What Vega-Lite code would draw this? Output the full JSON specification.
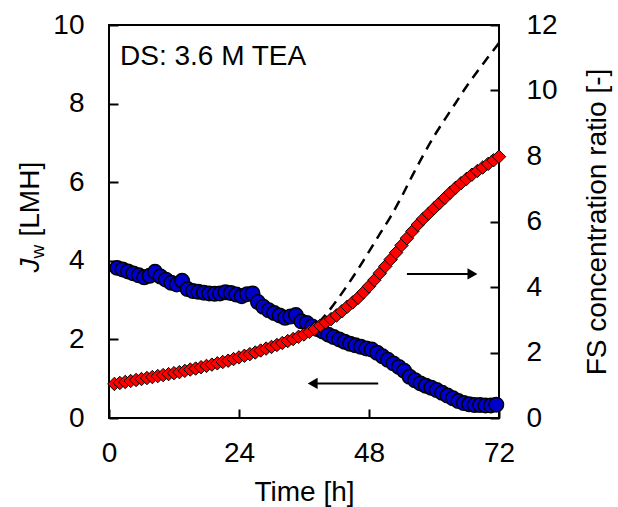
{
  "$schema": "https://vega.github.io/schema/vega-lite/v6.json",
  "width": 390,
  "height": 393,
  "autosize": "none",
  "padding": {"left": 109, "top": 25, "right": 119, "bottom": 89},
  "background": "white",
  "config": {
    "font": "Liberation Sans",
    "view": {"stroke": "black", "strokeWidth": 2},
    "axis": {
      "labelFont": "Liberation Sans",
      "titleFont": "Liberation Sans",
      "labelFontSize": 28,
      "labelColor": "black",
      "titleFontSize": 28,
      "titleFontWeight": "normal",
      "titleColor": "black",
      "tickColor": "black",
      "tickWidth": 2,
      "tickSize": -9,
      "labelFlush": false,
      "labelOverlap": false,
      "grid": false,
      "domain": false
    }
  },
  "encoding": {
    "x": {
      "field": "t",
      "type": "quantitative",
      "scale": {"domain": [0, 72], "nice": false, "zero": false},
      "axis": {
        "values": [0, 24, 48, 72],
        "title": "Time [h]",
        "labelPadding": 30,
        "titleY": 82,
        "titleBaseline": "alphabetic"
      }
    }
  },
  "layer": [
    {
      "layer": [
        {
          "data": {"values": [
            {"t":1.5,"v":3.82},{"t":2.5,"v":3.78},{"t":3.5,"v":3.73},{"t":4.5,"v":3.68},{"t":5.5,"v":3.63},{"t":6.5,"v":3.58},{"t":7.5,"v":3.62},{"t":8.5,"v":3.72},{"t":9.5,"v":3.6},{"t":10.5,"v":3.52},{"t":11.5,"v":3.44},{"t":12.5,"v":3.4},{"t":13.5,"v":3.49},{"t":14.5,"v":3.28},{"t":15.5,"v":3.23},{"t":16.5,"v":3.21},{"t":17.5,"v":3.19},{"t":18.5,"v":3.17},{"t":19.5,"v":3.16},{"t":20.5,"v":3.17},{"t":21.5,"v":3.2},{"t":22.5,"v":3.18},{"t":23.5,"v":3.14},{"t":24.5,"v":3.1},{"t":25.5,"v":3.15},{"t":26.5,"v":3.17},{"t":27.5,"v":2.95},{"t":28.5,"v":2.83},{"t":29.5,"v":2.74},{"t":30.5,"v":2.67},{"t":31.5,"v":2.61},{"t":32.5,"v":2.55},{"t":33.5,"v":2.58},{"t":34.5,"v":2.62},{"t":35.5,"v":2.46},{"t":36.5,"v":2.42},{"t":37.5,"v":2.33},{"t":38.5,"v":2.26},{"t":39.5,"v":2.2},{"t":40.5,"v":2.12},{"t":41.5,"v":2.06},{"t":42.5,"v":2.0},{"t":43.5,"v":1.94},{"t":44.5,"v":1.89},{"t":45.5,"v":1.85},{"t":46.5,"v":1.81},{"t":47.5,"v":1.77},{"t":48.5,"v":1.74},{"t":49.5,"v":1.66},{"t":50.5,"v":1.57},{"t":51.5,"v":1.48},{"t":52.5,"v":1.39},{"t":53.5,"v":1.3},{"t":54.5,"v":1.2},{"t":55.5,"v":1.05},{"t":56.5,"v":0.96},{"t":57.5,"v":0.88},{"t":58.5,"v":0.82},{"t":59.5,"v":0.77},{"t":60.5,"v":0.71},{"t":61.5,"v":0.64},{"t":62.5,"v":0.57},{"t":63.5,"v":0.5},{"t":64.5,"v":0.43},{"t":65.5,"v":0.38},{"t":66.5,"v":0.35},{"t":67.5,"v":0.33},{"t":68.5,"v":0.33},{"t":69.5,"v":0.32},{"t":70.5,"v":0.32},{"t":71.5,"v":0.34}
          ]},
          "mark": {"type": "point", "shape": "circle", "filled": true, "fill": "#0000cc", "stroke": "black", "strokeWidth": 1.5, "size": 210, "opacity": 1},
          "encoding": {
            "y": {
              "field": "v",
              "type": "quantitative",
              "scale": {"domain": [0, 10], "nice": false, "zero": false},
              "axis": {
                "orient": "left",
                "values": [0, 2, 4, 6, 8, 10],
                "labelPadding": 34,
                "title": "[LMH]",
                "titleAngle": 270,
                "titleAlign": "left",
                "titleBaseline": "alphabetic",
                "titleX": -71,
                "titleY": 211
              }
            }
          }
        },
        {
          "data": {"values": [{"t": 37.6, "t2": 49.7, "v": 0.88}]},
          "mark": {"type": "rule", "stroke": "black", "strokeWidth": 2},
          "encoding": {
            "x2": {"field": "t2"},
            "y": {
              "field": "v",
              "type": "quantitative",
              "axis": {
                "orient": "left",
                "labels": false,
                "ticks": false,
                "domain": false,
                "title": "J",
                "titleFontStyle": "italic",
                "titleAngle": 270,
                "titleAlign": "left",
                "titleBaseline": "alphabetic",
                "titleX": -71,
                "titleY": 247
              }
            }
          }
        },
        {
          "data": {"values": [{"t": 37.6, "v": 0.88}]},
          "mark": {"type": "point", "shape": "triangle-left", "filled": true, "color": "black", "size": 130, "opacity": 1},
          "encoding": {
            "y": {
              "field": "v",
              "type": "quantitative",
              "axis": {
                "orient": "left",
                "labels": false,
                "ticks": false,
                "domain": false,
                "title": "w",
                "titleFontSize": 19,
                "titleAngle": 270,
                "titleAlign": "left",
                "titleBaseline": "alphabetic",
                "titleX": -66,
                "titleY": 233
              }
            }
          }
        },
        {
          "data": {"values": [{"t": 2.03, "v": 8.98, "label": "DS: 3.6 M TEA"}]},
          "mark": {"type": "text", "align": "left", "baseline": "alphabetic", "fontSize": 28, "color": "black", "font": "Liberation Sans"},
          "encoding": {
            "y": {"field": "v", "type": "quantitative", "axis": null},
            "text": {"field": "label"}
          }
        }
      ],
      "resolve": {"axis": {"y": "independent"}}
    },
    {
      "encoding": {
        "y": {
          "field": "v",
          "type": "quantitative",
          "scale": {"domain": [0, 12], "nice": false, "zero": false},
          "axis": {
            "orient": "right",
            "values": [0, 2, 4, 6, 8, 10, 12],
            "labelPadding": 36,
            "title": "FS concentration ratio [-]",
            "titleAngle": 270,
            "titleAlign": "center",
            "titleBaseline": "alphabetic",
            "titleX": 106,
            "titleY": 196.5
          }
        }
      },
      "layer": [
        {
          "data": {"values": [
            {"t":0,"v":1.01},{"t":4,"v":1.13},{"t":8,"v":1.25},{"t":12,"v":1.37},{"t":16,"v":1.51},{"t":20,"v":1.67},{"t":24,"v":1.85},{"t":28,"v":2.06},{"t":32,"v":2.29},{"t":34,"v":2.42},{"t":36,"v":2.58},{"t":38,"v":2.8},{"t":40,"v":3.15},{"t":42,"v":3.58},{"t":44,"v":4.05},{"t":46,"v":4.55},{"t":48,"v":5.08},{"t":50,"v":5.62},{"t":52,"v":6.15},{"t":54,"v":6.75},{"t":56,"v":7.4},{"t":58,"v":8.02},{"t":60,"v":8.6},{"t":62,"v":9.12},{"t":64,"v":9.62},{"t":66,"v":10.12},{"t":68,"v":10.58},{"t":70,"v":11.02},{"t":72,"v":11.45}
          ]},
          "mark": {"type": "line", "stroke": "black", "strokeWidth": 2.5, "strokeDash": [10, 7], "interpolate": "monotone"}
        },
        {
          "data": {"values": [
            {"t":1,"v":1.04},{"t":2,"v":1.07},{"t":3,"v":1.1},{"t":4,"v":1.13},{"t":5,"v":1.16},{"t":6,"v":1.19},{"t":7,"v":1.22},{"t":8,"v":1.25},{"t":9,"v":1.28},{"t":10,"v":1.31},{"t":11,"v":1.34},{"t":12,"v":1.37},{"t":13,"v":1.4},{"t":14,"v":1.44},{"t":15,"v":1.48},{"t":16,"v":1.51},{"t":17,"v":1.55},{"t":18,"v":1.59},{"t":19,"v":1.63},{"t":20,"v":1.67},{"t":21,"v":1.71},{"t":22,"v":1.75},{"t":23,"v":1.8},{"t":24,"v":1.85},{"t":25,"v":1.9},{"t":26,"v":1.95},{"t":27,"v":2.0},{"t":28,"v":2.06},{"t":29,"v":2.12},{"t":30,"v":2.17},{"t":31,"v":2.23},{"t":32,"v":2.29},{"t":33,"v":2.35},{"t":34,"v":2.41},{"t":35,"v":2.48},{"t":36,"v":2.55},{"t":37,"v":2.63},{"t":38,"v":2.72},{"t":39,"v":2.82},{"t":40,"v":2.92},{"t":41,"v":3.02},{"t":42,"v":3.13},{"t":43,"v":3.26},{"t":44,"v":3.4},{"t":45,"v":3.53},{"t":46,"v":3.67},{"t":47,"v":3.84},{"t":48,"v":4.02},{"t":49,"v":4.21},{"t":50,"v":4.42},{"t":51,"v":4.63},{"t":52,"v":4.84},{"t":53,"v":5.05},{"t":54,"v":5.27},{"t":55,"v":5.49},{"t":56,"v":5.7},{"t":57,"v":5.9},{"t":58,"v":6.08},{"t":59,"v":6.24},{"t":60,"v":6.4},{"t":61,"v":6.56},{"t":62,"v":6.72},{"t":63,"v":6.88},{"t":64,"v":7.03},{"t":65,"v":7.17},{"t":66,"v":7.3},{"t":67,"v":7.43},{"t":68,"v":7.54},{"t":69,"v":7.65},{"t":70,"v":7.76},{"t":71,"v":7.87},{"t":72,"v":7.98}
          ]},
          "mark": {"type": "point", "shape": "diamond", "filled": true, "fill": "#ff0000", "stroke": "black", "strokeWidth": 1, "size": 180, "opacity": 1}
        },
        {
          "data": {"values": [{"t": 55.0, "t2": 67.1, "v": 4.4}]},
          "mark": {"type": "rule", "stroke": "black", "strokeWidth": 2},
          "encoding": {"x2": {"field": "t2"}}
        },
        {
          "data": {"values": [{"t": 67.1, "v": 4.4}]},
          "mark": {"type": "point", "shape": "triangle-right", "filled": true, "color": "black", "size": 130, "opacity": 1}
        }
      ]
    }
  ],
  "resolve": {"scale": {"y": "independent"}}
}
